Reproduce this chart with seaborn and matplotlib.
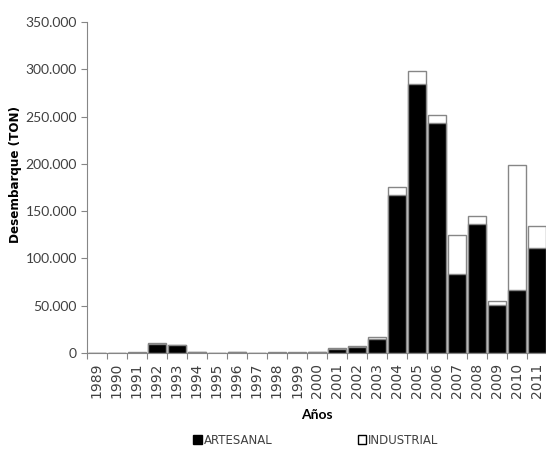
import matplotlib
matplotlib.use("Agg")
import matplotlib.pyplot as plt
import matplotlib.ticker as mticker
from matplotlib.patches import Patch
import seaborn as sns
import pandas as pd

anios = [str(a) for a in range(1989, 2012)]
artesanal = [0, 0, 500, 9500, 8000, 800, 0, 800, 0, 500, 500, 800,
             4500, 6500, 14500, 167000, 284000, 243000, 83500, 136000,
             51000, 67000, 111000]
industrial = [0, 0, 1000, 1000, 500, 0, 0, 300, 0, 200, 200, 300,
              500, 500, 2000, 8500, 14000, 9000, 41000, 9000,
              4000, 132000, 23500]

df = pd.DataFrame({"ANIO": anios, "ARTESANAL": artesanal, "INDUSTRIAL": industrial})
df["TOTAL"] = df["ARTESANAL"] + df["INDUSTRIAL"]

sns.set_theme(style="white")
plt.rcParams["font.family"] = ["Lato", "DejaVu Sans"]

gris = "#868686"
texto = "#404040"

fig = plt.figure(figsize=(5.46, 4.5), dpi=100)
ax = fig.add_axes([0.159, 0.2156, 0.843, 0.7354])

# barra total (blanca) debajo, artesanal (negra) encima
sns.barplot(data=df, x="ANIO", y="TOTAL", color="white", edgecolor=gris,
            linewidth=1, width=0.9, saturation=1, ax=ax)
sns.barplot(data=df, x="ANIO", y="ARTESANAL", color="black", edgecolor=gris,
            linewidth=1, width=0.9, saturation=1, ax=ax)

ax.set_xlim(-0.5, len(anios) - 0.5)
ax.set_ylim(0, 350000)
ax.yaxis.set_major_locator(mticker.MultipleLocator(50000))
ax.yaxis.set_major_formatter(mticker.FuncFormatter(
    lambda v, p: f"{v:,.0f}".replace(",", ".")))

ax.set_xticks(range(len(anios)))
ax.set_xticklabels(anios, rotation=90, fontsize=10, color=texto, family="DejaVu Sans")
ax.set_xticks([i - 0.5 for i in range(len(anios) + 1)], minor=True)
ax.tick_params(axis="x", which="major", length=0, pad=7)
ax.tick_params(axis="x", which="minor", length=4, width=0.8, color=gris, bottom=True)
ax.tick_params(axis="y", length=4, width=0.8, color=gris, left=True,
               labelsize=10, labelcolor=texto, pad=3)

for lado in ["top", "right"]:
    ax.spines[lado].set_visible(False)
for lado in ["left", "bottom"]:
    ax.spines[lado].set_color(gris)
    ax.spines[lado].set_linewidth(0.8)

ax.set_xlabel("Años", fontsize=10, fontweight="bold", color="black", labelpad=8)
ax.set_ylabel("Desembarque (TON)", fontsize=9.5, fontweight="bold", color="black",
              family="DejaVu Sans", fontstretch="condensed")
ax.yaxis.set_label_coords(-0.141, 0.54)

handles = [Patch(facecolor="black", edgecolor="black", label="ARTESANAL"),
           Patch(facecolor="white", edgecolor="black", label="INDUSTRIAL")]
fig.legend(handles=handles, loc="center", bbox_to_anchor=(316 / 546, 1 - 440 / 450),
           ncol=2, frameon=False, handlelength=0.7, handleheight=0.9,
           handletextpad=0.2, columnspacing=7.2, labelcolor=texto,
           prop={"family": "DejaVu Sans", "size": 8.5})

fig.savefig("out.png", dpi=100)
